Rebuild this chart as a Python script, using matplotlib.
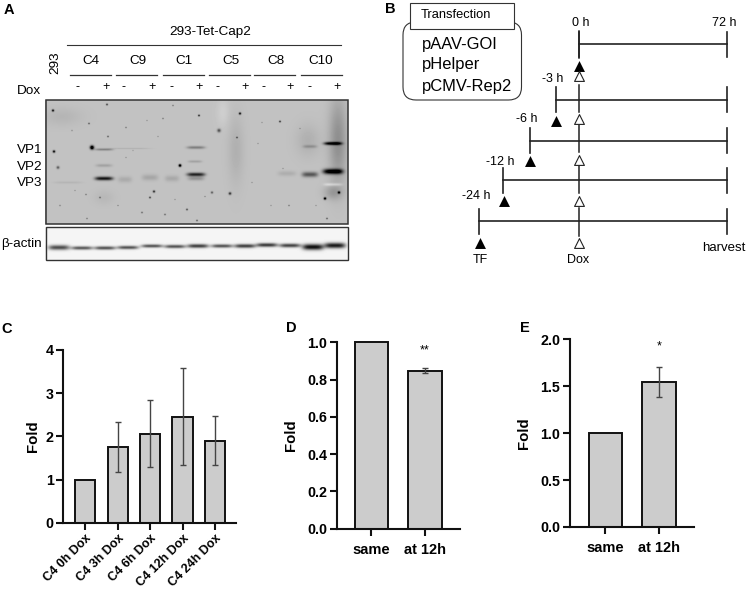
import numpy as np
import matplotlib
matplotlib.use('Agg')
import matplotlib.pyplot as plt
from matplotlib.patches import FancyBboxPatch, Rectangle

W, H = 747, 591

clones = ['C4', 'C9', 'C1', 'C5', 'C8', 'C10']
clone_x = [91, 138, 184, 231, 276, 321]
lane_bars = [(70, 111), (116, 157), (163, 204), (209, 250), (254, 295), (301, 342)]
minus_x = [77, 124, 171, 218, 263, 309]
plus_x = [106, 152, 199, 245, 290, 337]
bands = [(104, 178, 9, 1.9, 0.68), (104, 149, 9, 1.2, 0.24), (104, 165, 8, 1.6, 0.12),
         (125, 179, 7, 3, 0.09), (150, 177, 8, 3, 0.11), (172, 178, 7, 3, 0.10),
         (196, 174, 9, 1.9, 0.62), (196, 147, 9, 1.5, 0.26), (195, 161, 7, 1.3, 0.12),
         (196, 178, 8, 2, 0.18), (287, 173, 9, 2.5, 0.08), (310, 174, 8, 2.6, 0.42),
         (310, 146, 7, 1.6, 0.15), (333, 143, 9, 1.6, 0.75), (333, 171, 10, 2.6, 0.85),
         (333, 184, 9, 1.5, -0.14), (130, 148, 20, 0.8, 0.06), (68, 182, 14, 1.2, 0.05)]
smears = [(236, 150, 8, 34, 0.07), (338, 140, 9, 42, 0.20), (333, 192, 9, 7, 0.14),
          (223, 112, 6, 14, -0.05), (62, 116, 20, 9, 0.05), (308, 140, 12, 16, 0.07),
          (104, 197, 10, 7, 0.04)]
# dust spots: x, y, radius, darkness
spots = [(53, 110, 1.2, 0.7), (54, 151, 1.3, 0.75), (58, 167, 1.5, 0.4), (92, 147, 2, 1.0),
         (180, 165, 1.4, 0.95), (240, 113, 1.2, 0.7), (219, 130, 1.8, 0.45), (199, 115, 1, 0.6),
         (154, 191, 1.2, 0.6), (150, 197, 1, 0.5), (230, 193, 1.4, 0.55), (212, 192, 1.2, 0.4),
         (339, 192, 1.3, 0.75), (325, 198, 1.3, 0.85), (280, 121, 1, 0.55), (107, 104, 1, 0.5),
         (89, 123, 0.9, 0.4), (108, 136, 0.9, 0.4), (187, 209, 1, 0.45), (165, 214, 0.9, 0.35),
         (142, 212, 0.9, 0.35), (87, 218, 0.8, 0.3), (100, 197, 0.9, 0.35), (86, 194, 0.8, 0.3),
         (237, 137, 0.9, 0.45), (197, 220, 0.9, 0.4), (327, 218, 0.9, 0.4), (60, 205, 0.8, 0.25),
         (173, 105, 0.8, 0.3), (126, 127, 0.8, 0.3), (163, 118, 0.8, 0.3), (289, 205, 0.8, 0.3),
         (72, 130, 0.8, 0.2), (126, 157, 0.7, 0.2), (158, 136, 0.7, 0.2), (133, 150, 0.7, 0.15),
         (75, 190, 0.7, 0.2), (118, 205, 0.7, 0.25), (205, 196, 0.7, 0.25), (258, 143, 0.7, 0.2),
         (271, 205, 0.7, 0.2), (300, 128, 0.7, 0.2), (316, 205, 0.7, 0.2), (175, 199, 0.7, 0.2),
         (147, 120, 0.7, 0.2), (252, 182, 0.7, 0.2), (283, 168, 0.7, 0.2), (262, 122, 0.7, 0.2)]
actin_x = [59, 82, 105, 128, 152, 175, 198, 222, 245, 267, 290, 313, 335]
actin_y = [247, 247.5, 247.5, 247, 245.5, 246, 245.5, 245.5, 245.5, 244.5, 245, 246.5, 245]
actin_dark = [0.65, 0.6, 0.62, 0.62, 0.62, 0.62, 0.7, 0.62, 0.7, 0.72, 0.68, 0.9, 0.85]
actin_thick = [2.5, 1.8, 1.8, 1.8, 1.7, 1.8, 2, 1.8, 2, 2, 2, 3, 2.8]

# panel B: one row per timeline
row_y = [44, 99.5, 140.5, 180, 221]
row_start = [578.7, 555.7, 529.7, 503.3, 479.3]
row_text = ['0 h', '-3 h', '-6 h', '-12 h', '-24 h']
row_text_right = [590, 563, 537, 515, 491]
row_text_y = [23, 79, 119, 162, 196]
plasmids = ['pAAV-GOI', 'pHelper', 'pCMV-Rep2']

# panel C
c_labels = ['C4 0h Dox', 'C4 3h Dox', 'C4 6h Dox', 'C4 12h Dox', 'C4 24h Dox']
c_values = [1.0, 1.75, 2.05, 2.45, 1.89]
c_low = [1.0, 1.18, 1.28, 1.33, 1.34]
c_high = [1.0, 2.33, 2.84, 3.58, 2.47]
# panel D
d_labels = ['same', 'at 12h']
d_values = [1.0, 0.847]
d_low = [1.0, 0.835]
d_high = [1.0, 0.862]
# panel E
e_labels = ['same', 'at 12h']
e_values = [1.0, 1.54]
e_low = [1.0, 1.39]
e_high = [1.0, 1.70]

plt.rcParams['font.family'] = ['Liberation Sans', 'DejaVu Sans']
fig = plt.figure(figsize=(W / 100, H / 100), dpi=100, facecolor='white')


def pixel_axes(left, top, right, bottom):
    return fig.add_axes([left / W, 1 - bottom / H, (right - left) / W, (bottom - top) / H])


# whole figure canvas in pixels for the blot and the schematic
ax = pixel_axes(0, 0, W, H)
ax.axis('off')

# --- panel A ---
ax.text(9, 10, 'A', fontsize=10.5, fontweight='bold', ha='center', va='center')
ax.text(210, 32, '293-Tet-Cap2', fontsize=9.7, ha='center', va='center')
ax.plot([67, 341], [45, 45], color='#333333', lw=0.8)
ax.text(55, 63, '293', fontsize=9.7, rotation=90, ha='center', va='center')
for name, cx, bar in zip(clones, clone_x, lane_bars):
    ax.text(cx, 61, name, fontsize=9.7, ha='center', va='center')
    ax.plot(bar, [75, 75], color='#333333', lw=0.9)
for x in minus_x:
    ax.text(x, 87.5, '-', fontsize=9, ha='center', va='center')
for x in plus_x:
    ax.text(x, 87, '+', fontsize=9, ha='center', va='center')
ax.text(29, 91, 'Dox', fontsize=9.7, ha='center', va='center')
for label, y in zip(['VP1', 'VP2', 'VP3'], [150, 167, 183]):
    ax.text(29.5, y, label, fontsize=9.7, ha='center', va='center')
ax.text(21, 244, 'β-actin', fontsize=9.7, ha='center', va='center')

xx, yy = np.meshgrid(np.arange(45.5, 348, 1), np.arange(100, 224, 1))
blot = np.full(xx.shape, 0.76)
for bx, by, hw, hh, d in smears:
    blot -= d * np.exp(-((xx - bx) / hw) ** 2 - ((yy - by) / hh) ** 2)
for bx, by, hw, hh, d in bands:
    blot -= d * np.exp(-((xx - bx) / hw) ** 4 - ((yy - by) / hh) ** 2)
for bx, by, r, d in spots:
    blot -= d * np.exp(-((xx - bx) / r) ** 2 - ((yy - by) / r) ** 2)
ax.imshow(np.clip(blot, 0, 1), cmap='gray', vmin=0, vmax=1, extent=(45, 348, 224, 100),
          aspect='auto', interpolation='bilinear', zorder=1)
ax.add_patch(Rectangle((45.5, 100), 302, 123.5, fill=False, ec='#333333', lw=1.1, zorder=2))

xx2, yy2 = np.meshgrid(np.arange(45.5, 348, 1), np.arange(227, 260, 1))
actin = np.full(xx2.shape, 0.96)
for bx, by, d, t in zip(actin_x, actin_y, actin_dark, actin_thick):
    actin -= d * np.exp(-((xx2 - bx) / 10.5) ** 4 - ((yy2 - by) / t) ** 2)
ax.imshow(np.clip(actin, 0, 1), cmap='gray', vmin=0, vmax=1, extent=(45, 348, 260, 227),
          aspect='auto', interpolation='bilinear', zorder=1)
ax.add_patch(Rectangle((45.5, 227), 302, 32.5, fill=False, ec='#333333', lw=1.0, zorder=2))

# --- panel B ---
ax.text(390, 9, 'B', fontsize=10.5, fontweight='bold', ha='center', va='center')
ax.add_patch(FancyBboxPatch((403, 22), 118.5, 78, boxstyle='round,pad=0,rounding_size=13',
                            fc='white', ec='#333333', lw=0.8, zorder=2))
ax.add_patch(Rectangle((410, 2.5), 104, 26.5, fc='white', ec='#333333', lw=0.8, zorder=3))
ax.text(456, 15, 'Transfection', fontsize=9.3, ha='center', va='center', zorder=4)
for name, y in zip(plasmids, [44, 65, 87]):
    ax.text(422, y, name, fontsize=11.9, ha='left', va='center', zorder=4)

harvest_x = 726.7
dox_x = 579
# dox line runs behind the timelines, broken by the triangles
ax.plot([dox_x, dox_x], [31, 58], color='#222222', lw=1.1)
for y0, y1 in [(85, 112), (125, 152), (165, 193), (208, 236)]:
    ax.plot([dox_x, dox_x], [y0, y1], color='#222222', lw=1.1)
for y, start, label, tx, ty in zip(row_y, row_start, row_text, row_text_right, row_text_y):
    ax.plot([start, harvest_x], [y, y], color='#222222', lw=1.2)
    ax.plot([start, start], [y - 12.5, y + 12.5], color='#222222', lw=1.2)
    ax.plot([harvest_x, harvest_x], [y - 12.5, y + 12.5], color='#222222', lw=1.2)
    ax.text(tx, ty, label, fontsize=9, ha='right', va='center')
ax.text(724.7, 23, '72 h', fontsize=9, ha='center', va='center')
ax.text(480, 260, 'TF', fontsize=9, ha='center', va='center')
ax.text(578, 260, 'Dox', fontsize=9, ha='center', va='center')
ax.text(724, 248, 'harvest', fontsize=9.5, ha='center', va='center')

closed_x = [579, 556, 530, 504, 480]
closed_y = [66, 121, 161, 201, 243]
open_y = [76, 119, 160, 201, 243]
ax.scatter(closed_x, closed_y, marker='^', s=62, color='black', zorder=4, linewidths=0)
ax.scatter([dox_x] * 5, open_y, marker='^', s=50, facecolor='white', edgecolor='#222222',
           linewidths=0.8, zorder=5)
ax.set_xlim(0, W)
ax.set_ylim(H, 0)


def bar_panel(rect, centers, values, low, high, labels, ylim, ticks, tick_fmt, label_x, rotate=False):
    left, top, right, bottom = rect
    a = pixel_axes(left, top, right, bottom)
    a.patch.set_alpha(0)
    step = centers[1] - centers[0]
    x = np.arange(len(values))
    a.set_xlim((left - centers[0]) / step, (right - centers[0]) / step)
    a.set_ylim(*ylim)
    a.bar(x, values, width=0.62, color='#cccccc', edgecolor='#111111', linewidth=1.4, clip_on=False)
    for i in x:
        if high[i] > low[i]:
            a.errorbar(i, values[i], yerr=[[values[i] - low[i]], [high[i] - values[i]]], color='#444444',
                       capsize=2.5, elinewidth=1.0, capthick=1.0, zorder=4)
    for side in ['top', 'right']:
        a.spines[side].set_visible(False)
    for side in ['left', 'bottom']:
        a.spines[side].set_linewidth(1.5)
        a.spines[side].set_color('#111111')
    a.set_yticks(ticks)
    a.set_yticklabels([tick_fmt % t for t in ticks], fontsize=10.3, fontweight='bold')
    a.set_xticks(x)
    if rotate:
        a.set_xticklabels(labels, rotation=45, ha='right', rotation_mode='anchor', fontsize=9, fontweight='bold')
    else:
        a.set_xticklabels(labels, fontsize=10.5, fontweight='bold')
    a.tick_params(axis='both', width=1.5, length=5, color='#111111', pad=2)
    a.tick_params(axis='x', pad=2 if rotate else 5)
    a.set_ylabel('Fold', fontsize=10.8, fontweight='bold', va='center')
    a.yaxis.set_label_coords((label_x - left) / (right - left), 0.5)
    return a


ax.text(7, 329, 'C', fontsize=10.5, fontweight='bold', ha='center', va='center')
ax.text(291, 328, 'D', fontsize=10.5, fontweight='bold', ha='center', va='center')
ax.text(525, 328, 'E', fontsize=10.5, fontweight='bold', ha='center', va='center')

c_ax = bar_panel((63.3, 350, 236, 522.7), [85.3, 117.7], c_values, c_low, c_high, c_labels,
                 (0, 4), [0, 1, 2, 3, 4], '%d', 33, rotate=True)
d_ax = bar_panel((336.7, 342.3, 460, 528.7), [371.3, 425], d_values, d_low, d_high, d_labels,
                 (0, 1), [0, 0.2, 0.4, 0.6, 0.8, 1.0], '%.1f', 291)
d_ax.text(1, 0.955, '**', fontsize=9, ha='center', va='center')
e_ax = bar_panel((570, 339.3, 694.3, 527), [605.3, 659], e_values, e_low, e_high, e_labels,
                 (0, 2), [0, 0.5, 1.0, 1.5, 2.0], '%.1f', 524)
e_ax.text(1, 1.92, '*', fontsize=9, ha='center', va='center')

fig.savefig('out.png', dpi=100)
